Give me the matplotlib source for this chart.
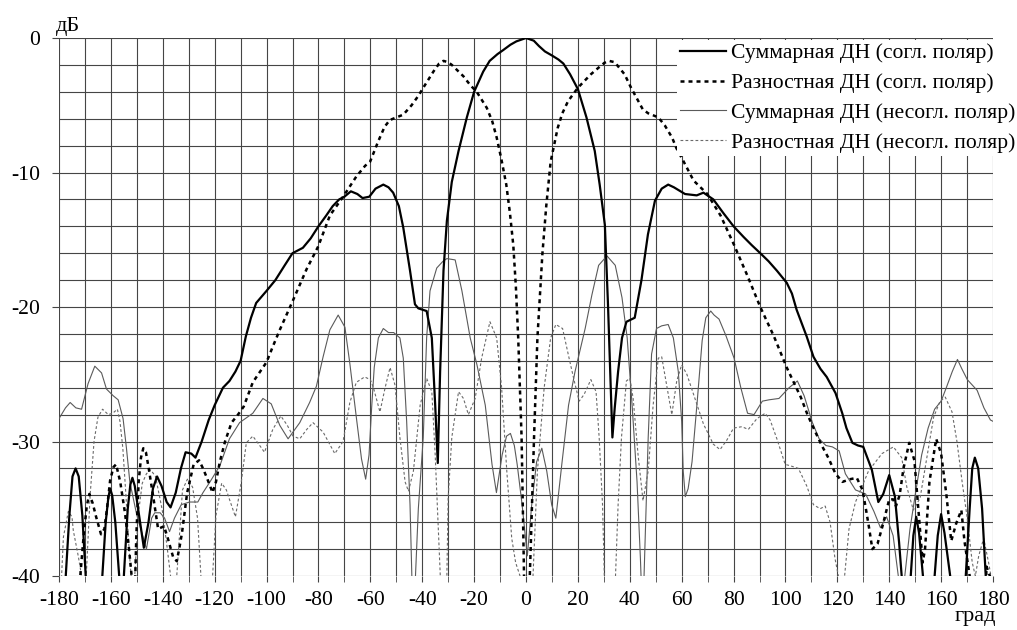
import matplotlib
matplotlib.use('Agg')
import matplotlib.pyplot as plt
import numpy as np

# Суммарная ДН (согл. поляр) - угол, град / уровень, дБ
sum_co_x = [-178.5, -177.4, -176, -174.8, -173.6, -172.4, -171, -169.7, -168.5,
            -164.2, -163.3, -162, -161, -160.3, -159.5, -158.3, -156.8, -156,
            -155.5, -155, -153.5, -152.5, -151.7, -150.8, -149.5, -147.3, -145.5, -143.8, -142.2,
            -140.5, -138.5, -137, -135, -133, -131.2, -129, -127.4, -125, -122.3, -120,
            -116.8, -114.3, -112, -110, -108, -106, -104, -100, -96.6, -93, -90, -86,
            -83, -80, -77, -74.5, -72, -70, -67.5, -65, -63, -60.4, -58, -55, -53,
            -51.2, -49, -47.3, -44.7, -42.8, -41.5, -38.3, -36.3, -35, -34, -33.1,
            -31.8, -30.5, -28.6, -26, -22.8, -20, -16.5, -14, -11, -8.8, -6, -3.7, 0,
            3, 5, 7.3, 10, 12.5, 14.4, 17, 20, 23.3, 26.5, 28.4, 30.4, 31.6, 32.5,
            33.3, 34.2, 35.5, 37, 38.7, 41.9, 44.5, 47, 49.7, 52.3, 54.8, 57, 58.7,
            61.3, 65.8, 68.4, 72.2, 76, 80, 83.9, 87, 90.3, 93.5, 96.7, 100.5, 102.5,
            104.3, 108.2, 110.8, 113.5, 115.9, 119.3, 121.9, 123.5, 125.8, 128, 130,
            133.3, 135.8, 137.7, 140, 142.2, 143.8, 144.8, 145.5, 147.5, 148.3, 149.3,
            150.4, 151.5, 153, 153.8, 156.8, 157.5, 158.7, 160, 161.3, 163.5, 164.3,
            167.8, 169.5, 171, 172, 173, 174.3, 175.8, 177.2, 178]
sum_co_y = [-45, -40, -35.5, -32.6, -32, -32.6, -35.5, -40, -45,
            -45, -40, -36, -34.2, -33.5, -34, -36, -40, -45,
            -45, -40, -35, -33.2, -32.7, -33.3, -35, -37.9, -36, -33.5, -32.6,
            -33.3, -34.5, -34.9, -33.8, -32, -30.8, -30.9, -31.2, -30, -28.4, -27.3,
            -26, -25.5, -24.8, -24, -22.2, -20.8, -19.7, -18.8, -18, -16.9, -16, -15.6,
            -14.9, -14, -13.2, -12.5, -12, -11.8, -11.4, -11.6, -11.9, -11.8, -11.2, -10.9, -11.1,
            -11.5, -12.5, -14.1, -17.3, -19.8, -20.1, -20.3, -22.3, -27.3, -31.6, -24.8,
            -17.3, -13.6, -10.7, -8.4, -5.9, -4, -2.5, -1.7, -1.2, -0.9, -0.5, -0.25, 0,
            -0.2, -0.6, -1, -1.3, -1.6, -1.9, -2.7, -3.8, -5.9, -8.4, -10.9, -13.9, -19.8, -25,
            -29.7, -27.5, -24.8, -22.3, -21.1, -20.8, -18, -14.6, -12.1, -11.2, -10.9, -11.1, -11.3,
            -11.6, -11.7, -11.5, -12, -13, -14, -14.8, -15.4, -16, -16.6, -17.3, -18.2, -19,
            -20.2, -22.2, -23.7, -24.6, -25.2, -26.4, -27.9, -29, -30.1, -30.3, -30.4,
            -32.1, -34.5, -33.9, -32.5, -34.1, -37.5, -40, -45, -45, -40, -37,
            -35.6, -36.8, -40, -45, -45, -40, -37, -35.4, -36.8, -40, -45,
            -45, -40, -35, -32, -31.2, -32, -35, -40, -45]

# Разностная ДН (согл. поляр)
dif_co_x = [-173, -171.8, -170.5, -169.3, -168.3, -167, -165.7, -163.8, -162.5, -161.5,
            -160.3, -159, -158, -156.4, -154.5, -153, -152, -151.3, -150.6, -150.2,
            -149.3, -148.4, -147.5, -146.5, -145.5, -143.6, -141.8, -139.5, -137.9,
            -136, -134.6, -133.5, -132.6, -130.6, -128.1, -126, -124.5, -123, -120.8,
            -119.5, -118, -116, -113.5, -111, -108.8, -105.3, -100, -97.5, -94.9,
            -89.8, -84.6, -80.1, -75.6, -70.5, -65.4, -62, -60.1, -57, -54.5, -52.5,
            -47.3, -44.1, -41.5, -39.6, -35.7, -33.5, -31.8, -30, -28.6, -24.1, -21.5,
            -19, -15.1, -13, -11.3, -9.5, -7.6, -6.2, -4.9, -3.9, -3, -1.7, -0.9, -0.3,
            0.6, 1.8, 3.1, 4.4, 6.3, 7.8, 9.5, 12.2, 14, 16.2, 20, 25, 28, 30.2, 32,
            34.2, 38, 40.5, 43.3, 45, 47.1, 51, 53.5, 56.3, 58, 60.8, 64.6, 69.9, 75,
            80, 85.4, 90.3, 95.6, 100.5, 105.9, 108.5, 111.3, 114, 116.5, 119.3, 122,
            125, 127.5, 129.7, 131, 132.3, 133.5, 135.5, 137.4, 140, 141.5, 142.6, 144,
            145.5, 147.7, 149.7, 151, 152.9, 153.8, 155.5, 158.1, 160, 162, 163.9,
            165.8, 167.8, 169, 171, 172, 176.5, 177.5, 178.8, 179.5]
dif_co_y = [-45, -40, -37, -34.8, -33.9, -34.6, -35.6, -36.9, -36.5, -35,
            -32.9, -31.9, -31.7, -33, -35.4, -38, -40, -42, -40, -37,
            -33, -31.2, -30.5, -30.8, -31.9, -34.2, -36.5, -36.3, -37.3,
            -38.6, -38.9, -37.8, -36.8, -33.8, -31.7, -31.4, -32, -32.7, -33.8,
            -33, -31.5, -30, -28.6, -28, -27.4, -25.6, -24.1, -22.9, -21.7,
            -19.5, -17.2, -15.5, -13.2, -11.8, -10.3, -9.5, -9.2, -7.7, -6.6, -6.1,
            -5.7, -5, -4.3, -3.7, -2.5, -1.9, -1.7, -1.8, -2, -2.85, -3.5,
            -4, -5.2, -6.2, -7.4, -9, -10.9, -13, -15.4, -18.5, -22.3, -29.7, -38.2, -45,
            -45, -38, -29.7, -22.3, -16.1, -12.5, -9.2, -6.7, -5.6, -4.7, -3.7, -2.7, -2.2, -1.85, -1.7,
            -1.8, -2.7, -3.7, -4.7, -5.3, -5.6, -5.9, -6.5, -7.4, -8.2, -9.2, -10.6, -11.6, -13.2,
            -15.3, -17.7, -20, -22.2, -24.5, -26.7, -28, -29.2, -30.3, -31.2, -32.4, -33,
            -32.8, -32.7, -33.6, -35, -36.5, -38, -37.6, -36.3, -34.3, -34.3, -34.8, -34,
            -32, -30.1, -31.4, -34.5, -39, -38, -33, -29.8, -30.9, -33.9, -37.4,
            -36.1, -35.1, -37.4, -40, -45, -45, -39.3, -40, -45]

# Суммарная ДН (несогл. поляр)
sum_cx_x = [-180, -177.5, -175.7, -173.5, -171.3, -168.8, -166.2, -163.6, -161.7, -159.1,
            -157.2, -155.3, -154, -152.7, -150.1, -147.6, -146.3, -144.3, -143.1, -141,
            -139.3, -137.4, -135.5, -132.9, -129.7, -126.5, -124.5, -121.8, -118, -114.3,
            -110.4, -105.3, -101.4, -98.2, -94.9, -91.7, -87.2, -83.4, -80.8, -78.2,
            -75.6, -72.4, -69.8, -67.9, -65.4, -63.4, -61.8, -60.5, -59.5, -58.5, -56.9,
            -55, -53, -51, -48.6, -47.3, -46, -44.7, -44, -43.4, -42.6, -41.5, -39.6,
            -38.3, -37, -34.4, -32, -30.5, -27.3, -24.7, -21.5, -18.9, -15.7, -13.1,
            -11.4, -9.2, -7.5, -6, -4.5, -3.4, -1.5, 0, 0.5, 1.2, 2.2, 4.1, 6.1, 8,
            9.9, 11.5, 13.8, 16.4, 18.9, 22.8, 25.4, 28, 31.2, 34.4, 37, 39, 40.9, 42.8,
            44.1, 44.7, 45.5, 47.1, 48.4, 50.3, 52.3, 54.8, 56.8, 58.7, 60, 60.6, 61.4,
            62.5, 64, 66, 67.9, 69.3, 71.2, 72.5, 74.4, 77, 80.2, 82.8, 85.4, 87.9, 91.1,
            93.7, 97.5, 101.4, 104.6, 107.2, 110.4, 113, 115.6, 118.1, 120.7, 123.1, 127,
            130.9, 134.1, 136.6, 139, 141.5, 143.5, 144.5, 146, 148, 150, 152.5, 155,
            157.5, 160, 162, 164.3, 166.3, 168, 170.1, 173.9, 176.5, 179, 180]
sum_cx_y = [-28.3, -27.5, -27.1, -27.5, -27.6, -25.7, -24.4, -24.9, -26.1, -26.6,
            -26.9, -28.3, -30.5, -33, -35.4, -37.1, -38, -35.7, -35.3, -35.3,
            -35.7, -36.7, -35.7, -34.7, -34.5, -34.5, -33.8, -33, -31.8, -29.8,
            -28.6, -27.9, -26.8, -27.2, -28.8, -29.8, -28.6, -27.1, -25.9, -23.7,
            -21.7, -20.6, -21.5, -24.2, -28.2, -31.3, -32.8, -31, -27.5, -24.5, -22.3,
            -21.6, -21.9, -21.9, -22.3, -23.8, -28.5, -34.7, -40, -44, -40, -35, -29.7,
            -22.3, -18.8, -17.1, -16.6, -16.4, -16.5, -18.8, -22.3, -24.3, -27.3, -31.7,
            -33.8, -31, -29.6, -29.4, -30.3, -31.7, -34.7, -37.5, -38.5, -37, -34.7, -31.5, -30.5, -32.2,
            -34.7, -35.7, -31.7, -27.3, -24.8, -21.6, -19.1, -16.9, -16.2, -16.9, -19.3, -22.3, -27.3, -33,
            -38.7, -42, -40, -29.7, -23.5, -21.6, -21.4, -21.3, -22.3, -24.8, -28.5, -32.2, -34.1,
            -33.5, -31.5, -27, -22.5, -20.8, -20.3, -20.6, -20.9, -22.1, -23.8, -26, -27.9, -28, -27,
            -26.9, -26.8, -26, -25.5, -26.6, -28.6, -29.8, -30.3, -30.4, -30.7, -32.4, -33.6,
            -33.9, -35.2, -36.4, -35.6, -37, -40, -44, -40, -36.5, -34, -31, -29,
            -27.6, -27, -26, -24.8, -23.9, -24.6, -25.4, -26.2, -27.5, -28.4, -28.5]

# Разностная ДН (несогл. поляр)
dif_cx_x = [-180, -179, -178.3, -176.4, -175, -174.5, -172.5, -171.3, -170.5, -169.5,
            -168, -166.5, -165, -163.2, -161, -159.3, -157.5, -156.5, -155.4, -154.2,
            -153, -152.2, -151.5, -150.8, -149.5, -147.9, -146.3, -144.7, -142.8, -140.2,
            -138.3, -137, -136, -134.6, -132.4, -130.5, -128.5, -126.6, -125.3, -124,
            -120.8, -119.5, -117.3, -115.5, -114.3, -112, -109.8, -107.8, -105.3, -103,
            -100.8, -97.6, -94.5, -92, -89.8, -87.2, -84.5, -82.1, -78.2, -73.7, -70.5,
            -67.9, -65.4, -62.2, -60, -58.8, -56.3, -54.3, -52.4, -50.5, -48.6, -46.6,
            -45.3, -43.4, -40.8, -38.3, -36.3, -35, -33.1, -32.5, -30.5, -30, -28.6, -26,
            -24.1, -22.2, -19.6, -17.1, -13.9, -11.3, -9.4, -7.4, -5.5, -4, -2.3, 0, 2.7,
            4.4, 7, 9.5, 11.5, 14.1, 16.6, 18.6, 20.5, 22.4, 25, 27, 28.2, 29.5, 30.2,
            32, 34.5, 35.5, 36.8, 38.7, 40, 41.3, 43.2, 45.1, 47.1, 49, 51, 52.3, 54.2,
            56.2, 58.1, 60, 62, 64.6, 68.4, 72.2, 74.8, 77.4, 80, 83.2, 85.7, 89, 92.2,
            94.1, 96.7, 99.9, 101.8, 105, 108.2, 110.8, 113.4, 115.3, 117.2, 119.1, 120.4,
            121.5, 122.8, 124.5, 127, 132, 137.2, 141.6, 144.8, 146.8, 149.3, 151.9,
            154.5, 157.1, 159.6, 161.6, 164.2, 166.1, 168.1, 170, 172, 173.2, 174.5,
            175.8, 176.4, 178.3, 179.2, 180]
dif_cx_y = [-42, -40, -37.1, -35.2, -35.6, -36.6, -38.6, -40, -42, -40,
            -34, -30, -28.2, -27.6, -28, -27.9, -27.6, -28.5, -30.5, -34,
            -38, -40, -43, -40, -35.5, -33.1, -32.4, -32.1, -32.6, -35.1,
            -37.9, -40, -44, -40, -33.6, -32.8, -33.4, -35.7, -40, -44,
            -40, -35.5, -33.1, -33.6, -34.3, -35.6, -33.1, -30.1, -29.6, -30.2,
            -30.8, -29.1, -28.1, -28.8, -29.6, -29.8, -29.1, -28.6, -29.3, -30.9, -30,
            -27.1, -25.6, -25.2, -25.4, -26, -27.8, -26, -24.5, -25.8, -29.7, -33,
            -33.7, -32.2, -27.3, -25.3, -26.3, -31, -39.7, -43, -40, -34.2, -29.7, -26.3,
            -26.8, -28, -26.8, -23.8, -21.1, -22.3, -26, -32.2, -37.2, -39, -40, -45, -40,
            -32.2, -26, -22.3, -21.3, -21.6, -23.8, -25.5, -27, -26.5, -25.4, -26.3, -29.7, -34.7, -40,
            -45, -40, -34.7, -29.7, -25.5, -25.3, -26.8, -31, -34.4, -32.2, -27.3, -23.8, -23.7, -25.8,
            -28, -25.5, -24.3, -25, -26.5, -28.7, -30.2, -30.6, -29.9, -29, -28.9, -29.1, -28.3, -27.9,
            -28.4, -29.8, -31.7, -31.8, -32, -33.3, -34.7, -35, -34.8, -36, -38.7, -40,
            -44, -40, -36.5, -34.5, -32.2, -30.9, -30.4, -31.2, -33.4, -35.1, -34.2,
            -31.2, -28.2, -27, -26.7, -27.8, -30, -33, -35.6, -39, -40, -38.5,
            -37.6, -37.2, -39, -40, -43]

x_ticks = list(range(-180, 181, 20))
y_ticks = [0, -10, -20, -30, -40]

labels = ['Суммарная ДН (согл. поляр)', 'Разностная ДН (согл. поляр)',
          'Суммарная ДН (несогл. поляр)', 'Разностная ДН (несогл. поляр)']

plt.rcParams['font.family'] = ['Liberation Serif', 'DejaVu Serif']
plt.rcParams['font.size'] = 15.6

fig = plt.figure(figsize=(10.17, 6.3), dpi=100)
ax = fig.add_axes([59 / 1017, 1 - 576 / 630, 934 / 1017, 538 / 630])

l1, = ax.plot(sum_co_x, sum_co_y, color='black', lw=1.6, zorder=5)
l2, = ax.plot(dif_co_x, dif_co_y, color='black', lw=1.8, linestyle=(0, (1.6, 1.6)), zorder=4)
l3, = ax.plot(sum_cx_x, sum_cx_y, color='#5a5a5a', lw=0.8, zorder=3)
l4, = ax.plot(dif_cx_x, dif_cx_y, color='#6a6a6a', lw=0.8, linestyle=(0, (2.5, 2)), zorder=3)

ax.set_xlim(-180, 180)
ax.set_ylim(-40, 0)
ax.set_xticks(x_ticks)
ax.set_xticks(range(-180, 181, 10), minor=True)
ax.set_yticks(y_ticks)
ax.set_yticks(range(-40, 1, 2), minor=True)
ax.set_xticklabels([str(v) for v in x_ticks])
ax.set_yticklabels([str(v) for v in y_ticks])
ax.grid(which='both', color='#454545', lw=0.8)
ax.tick_params(axis='x', which='both', length=4, color='#454545', pad=7)
ax.tick_params(axis='y', which='major', length=5, color='#454545', pad=8.5)
ax.tick_params(axis='y', which='minor', length=0)
for s in ax.spines.values():
    s.set_visible(False)
ax.set_axisbelow(True)

leg = ax.legend([l1, l2, l3, l4], labels, loc='upper left',
                bbox_to_anchor=(677 / 1017, 1 - 40 / 630), bbox_transform=fig.transFigure,
                frameon=True, facecolor='white', edgecolor='none', framealpha=1,
                fancybox=False, borderpad=0.15, borderaxespad=0, handlelength=2.1,
                handletextpad=0.25, labelspacing=0.44)
leg.set_zorder(10)

fig.text(68 / 1017, 1 - 27 / 630, 'дБ', ha='center', va='center', fontsize=16)
fig.text(975 / 1017, 1 - 617 / 630, 'град', ha='center', va='center', fontsize=16)

fig.savefig('out.png', dpi=100)
